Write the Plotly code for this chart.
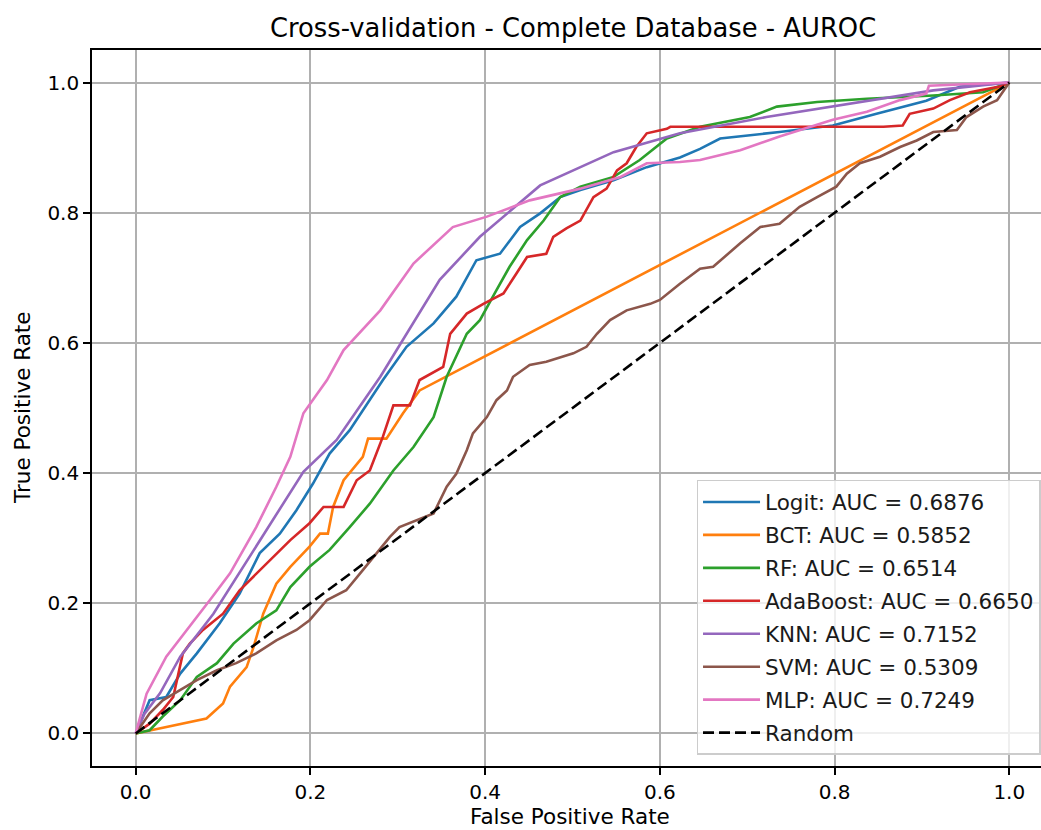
import plotly.graph_objects as go

# ---- Data ----
logit_fpr = [0, 0.016, 0.035, 0.051, 0.070, 0.096, 0.119, 0.142, 0.165, 0.184, 0.203, 0.222, 0.245, 0.268, 0.283,
             0.310, 0.341, 0.367, 0.390, 0.417, 0.440, 0.463, 0.486, 0.509, 0.547, 0.585, 0.623, 0.646, 0.669, 0.737,
             0.798, 0.848, 0.905, 0.944, 1.0]
logit_tpr = [0, 0.051, 0.056, 0.092, 0.123, 0.169, 0.215, 0.277, 0.307, 0.343, 0.384, 0.430, 0.466, 0.512, 0.543,
             0.594, 0.630, 0.671, 0.727, 0.737, 0.778, 0.799, 0.824, 0.835, 0.850, 0.870, 0.885, 0.898, 0.914, 0.924,
             0.934, 0.952, 0.972, 0.994, 1.0]

bct_fpr = [0, 0.081, 0.100, 0.108, 0.127, 0.135, 0.146, 0.161, 0.177, 0.199, 0.211, 0.220, 0.226, 0.238, 0.260,
           0.266, 0.287, 0.306, 0.325, 1.0]
bct_tpr = [0, 0.023, 0.046, 0.072, 0.102, 0.133, 0.184, 0.230, 0.256, 0.287, 0.307, 0.307, 0.348, 0.389, 0.425,
           0.453, 0.453, 0.492, 0.527, 1.0]

rf_fpr = [0, 0.016, 0.031, 0.051, 0.070, 0.093, 0.112, 0.138, 0.161, 0.177, 0.199, 0.222, 0.245, 0.268, 0.295,
          0.318, 0.341, 0.356, 0.379, 0.394, 0.413, 0.428, 0.448, 0.467, 0.486, 0.509, 0.547, 0.577, 0.608, 0.646,
          0.703, 0.734, 0.780, 0.837, 0.913, 0.970, 1.0]
rf_tpr = [0, 0.005, 0.026, 0.051, 0.087, 0.108, 0.138, 0.169, 0.189, 0.225, 0.256, 0.282, 0.317, 0.353, 0.404,
          0.440, 0.486, 0.548, 0.614, 0.635, 0.681, 0.717, 0.758, 0.788, 0.824, 0.840, 0.855, 0.881, 0.914, 0.932,
          0.947, 0.963, 0.970, 0.975, 0.980, 0.985, 1.0]

ada_fpr = [0, 0.016, 0.031, 0.043, 0.054, 0.062, 0.077, 0.100, 0.119, 0.135, 0.157, 0.177, 0.199, 0.215, 0.238,
           0.253, 0.268, 0.283, 0.295, 0.314, 0.325, 0.352, 0.360, 0.379, 0.398, 0.421, 0.436, 0.448, 0.470, 0.478,
           0.493, 0.509, 0.524, 0.539, 0.551, 0.562, 0.573, 0.585, 0.608, 0.612, 0.856, 0.878, 0.886, 0.913, 0.932,
           0.955, 0.989, 1.0]
ada_tpr = [0, 0.015, 0.036, 0.056, 0.123, 0.138, 0.159, 0.184, 0.220, 0.241, 0.271, 0.297, 0.323, 0.348, 0.348,
           0.389, 0.404, 0.456, 0.504, 0.504, 0.543, 0.563, 0.614, 0.645, 0.660, 0.676, 0.707, 0.732, 0.737, 0.763,
           0.776, 0.788, 0.824, 0.837, 0.865, 0.876, 0.901, 0.922, 0.929, 0.932, 0.932, 0.934, 0.952, 0.960, 0.973,
           0.985, 0.994, 1.0]

knn_fpr = [0, 0.010, 0.028, 0.051, 0.089, 0.123, 0.157, 0.192, 0.230, 0.280, 0.348, 0.394, 0.463, 0.547, 0.623,
           0.722, 0.913, 1.0]
knn_tpr = [0, 0.030, 0.062, 0.118, 0.184, 0.256, 0.328, 0.402, 0.451, 0.548, 0.697, 0.763, 0.842, 0.893, 0.922,
           0.947, 0.988, 1.0]

svm_fpr = [0, 0.016, 0.031, 0.051, 0.070, 0.093, 0.115, 0.138, 0.161, 0.184, 0.199, 0.219, 0.241, 0.260, 0.276,
           0.291, 0.302, 0.322, 0.341, 0.356, 0.367, 0.379, 0.386, 0.402, 0.413, 0.425, 0.432, 0.451, 0.470, 0.501,
           0.516, 0.528, 0.543, 0.562, 0.589, 0.600, 0.623, 0.646, 0.661, 0.692, 0.715, 0.737, 0.760, 0.780, 0.802,
           0.814, 0.829, 0.852, 0.875, 0.894, 0.913, 0.940, 0.951, 0.970, 0.986, 1.0]
svm_tpr = [0, 0.031, 0.051, 0.067, 0.082, 0.097, 0.108, 0.123, 0.143, 0.159, 0.174, 0.205, 0.220, 0.251, 0.277,
           0.302, 0.317, 0.328, 0.338, 0.379, 0.399, 0.435, 0.461, 0.486, 0.512, 0.527, 0.548, 0.566, 0.571, 0.584,
           0.594, 0.614, 0.635, 0.650, 0.660, 0.666, 0.691, 0.714, 0.717, 0.753, 0.778, 0.783, 0.809, 0.824, 0.840,
           0.860, 0.876, 0.886, 0.901, 0.911, 0.924, 0.927, 0.947, 0.963, 0.973, 1.0]

mlp_fpr = [0, 0.0125, 0.035, 0.062, 0.085, 0.108, 0.138, 0.161, 0.177, 0.192, 0.219, 0.238, 0.280, 0.318, 0.363,
           0.402, 0.451, 0.509, 0.555, 0.585, 0.623, 0.646, 0.692, 0.737, 0.798, 0.837, 0.875, 0.905, 0.908, 1.0]
mlp_tpr = [0, 0.061, 0.118, 0.164, 0.205, 0.246, 0.317, 0.379, 0.425, 0.492, 0.543, 0.589, 0.650, 0.722, 0.778,
           0.794, 0.819, 0.837, 0.855, 0.876, 0.878, 0.881, 0.896, 0.917, 0.943, 0.955, 0.973, 0.983, 0.995, 1.0]

random_fpr = [0, 1]
random_tpr = [0, 1]

model_names = ["Logit", "BCT", "RF", "AdaBoost", "KNN", "SVM", "MLP"]
auc_values = [0.6876, 0.5852, 0.6514, 0.6650, 0.7152, 0.5309, 0.7249]
colors = ["#1f77b4", "#ff7f0e", "#2ca02c", "#d62728", "#9467bd", "#8c564b", "#e377c2"]
curves = [(logit_fpr, logit_tpr), (bct_fpr, bct_tpr), (rf_fpr, rf_tpr), (ada_fpr, ada_tpr),
          (knn_fpr, knn_tpr), (svm_fpr, svm_tpr), (mlp_fpr, mlp_tpr)]

tick_vals = [0.0, 0.2, 0.4, 0.6, 0.8, 1.0]
tick_text = ["0.0", "0.2", "0.4", "0.6", "0.8", "1.0"]

FONT = "DejaVu Sans"

fig = go.Figure()
for i, (name, auc, col, (fx, fy)) in enumerate(zip(model_names, auc_values, colors, curves)):
    fig.add_trace(go.Scatter(
        x=fx, y=fy, mode="lines", name=f"{name}: AUC = {auc:.4f}",
        line=dict(color=col, width=2.6), legendgroup=f"g{i}"))
fig.add_trace(go.Scatter(
    x=random_fpr, y=random_tpr, mode="lines", name="Random",
    line=dict(color="black", width=2.6, dash="11px,5px"), legendgroup="g_rand"))

W, H = 1041, 830
L, R, T, B = 92, 0, 50, 64

fig.update_layout(
    width=W, height=H,
    margin=dict(l=L, r=R, t=T, b=B, pad=0),
    paper_bgcolor="white", plot_bgcolor="white",
    font=dict(family=FONT, size=20, color="black"),
    showlegend=True,
    legend=dict(
        x=0.9995, y=0.0154, xanchor="right", yanchor="bottom",
        bgcolor="rgba(255,255,255,0.8)", bordercolor="#cccccc", borderwidth=1.5,
        font=dict(family=FONT, size=21.5, color="#1a1a1a"),
        tracegroupgap=2, itemwidth=57,
    ),
    annotations=[
        dict(text="Cross-validation - Complete Database - AUROC", xref="paper", yref="paper",
             x=(573 - L) / (W - L - R), y=1 + (T - 28) / (H - T - B), xanchor="center", yanchor="middle",
             showarrow=False, font=dict(family=FONT, size=25.8, color="black")),
        dict(text="False Positive Rate", xref="paper", yref="paper",
             x=(570 - L) / (W - L - R), y=-(816 - (H - B)) / (H - T - B), xanchor="center", yanchor="middle",
             showarrow=False, font=dict(family=FONT, size=21.5, color="black")),
        dict(text="True Positive Rate", xref="paper", yref="paper", textangle=-90,
             x=-(L - 22) / (W - L - R), y=0.5, xanchor="center", yanchor="middle",
             showarrow=False, font=dict(family=FONT, size=21.5, color="black")),
    ],
)

fig.update_xaxes(
    range=[-0.05, (W - 135.8) / 873.5], tickvals=tick_vals, ticktext=tick_text,
    showgrid=True, gridcolor="#b0b0b0", gridwidth=1.6, zeroline=False,
    showline=True, linecolor="black", linewidth=1.6, mirror=True,
    ticks="outside", ticklen=7, tickwidth=1.6, tickcolor="black",
    tickfont=dict(family=FONT, size=20, color="black"),
)
fig.update_yaxes(
    range=[-0.05, 1.05], tickvals=tick_vals, ticktext=tick_text,
    showgrid=True, gridcolor="#b0b0b0", gridwidth=1.6, zeroline=False,
    showline=True, linecolor="black", linewidth=1.6, mirror=False,
    ticks="outside", ticklen=7, tickwidth=1.6, tickcolor="black",
    tickfont=dict(family=FONT, size=20, color="black"),
)

fig.write_html("out.html")
